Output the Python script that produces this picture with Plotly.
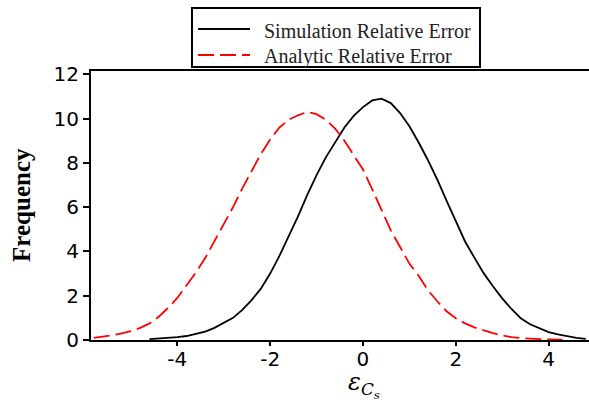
import plotly.graph_objects as go

# Simulation relative error (black solid)
sim_x = [-4.6, -4.4, -4.2, -4.0, -3.8, -3.6, -3.4, -3.2, -3.0, -2.8, -2.6, -2.4, -2.2, -2.0,
         -1.8, -1.6, -1.4, -1.2, -1.0, -0.8, -0.6, -0.4, -0.2, 0.0, 0.2, 0.4, 0.6, 0.8, 1.0,
         1.2, 1.4, 1.6, 1.8, 2.0, 2.2, 2.4, 2.6, 2.8, 3.0, 3.2, 3.4, 3.6, 3.8, 4.0, 4.2, 4.4,
         4.6, 4.8]
sim_y = [0.04, 0.06, 0.08, 0.13, 0.18, 0.27, 0.38, 0.55, 0.78, 1.0, 1.36, 1.8, 2.32, 3.0,
         3.8, 4.68, 5.58, 6.55, 7.45, 8.25, 8.95, 9.6, 10.12, 10.52, 10.82, 10.9, 10.7, 10.25, 9.65,
         8.92, 8.12, 7.25, 6.3, 5.35, 4.45, 3.72, 3.02, 2.43, 1.88, 1.4, 0.98, 0.71, 0.53, 0.36, 0.25, 0.16,
         0.1, 0.05]

# Analytic relative error (red dashed)
ana_x = [-5.8, -5.6, -5.4, -5.2, -5.0, -4.8, -4.6, -4.4, -4.2, -4.0, -3.8, -3.6, -3.4, -3.2,
         -3.0, -2.8, -2.6, -2.4, -2.2, -2.0, -1.8, -1.6, -1.4, -1.2, -1.0, -0.8, -0.6, -0.4,
         -0.2, 0.0, 0.2, 0.4, 0.6, 0.8, 1.0, 1.2, 1.4, 1.6, 1.8, 2.0, 2.2, 2.4, 2.6, 2.8, 3.0,
         3.2, 3.4, 3.6, 3.8, 4.0, 4.2, 4.3]
ana_y = [0.1, 0.15, 0.22, 0.3, 0.4, 0.55, 0.75, 1.05, 1.45, 1.9, 2.45, 3.05, 3.7, 4.45,
         5.2, 6.0, 6.85, 7.65, 8.4, 9.05, 9.6, 9.95, 10.15, 10.3, 10.2, 9.95, 9.55, 9.0,
         8.35, 7.7, 6.8, 5.85, 4.95, 4.2, 3.45, 2.9, 2.25, 1.75, 1.3, 0.98, 0.75, 0.57, 0.43, 0.31, 0.21,
         0.13, 0.09, 0.05, 0.04, 0.03, 0.02, 0.02]

series_names = ["Simulation Relative Error", "Analytic Relative Error"]
series_colors = ["black", "red"]
series_dash = ["solid", "16px,6px"]

x_ticks = [-4, -2, 0, 2, 4]
y_ticks = [0, 2, 4, 6, 8, 10, 12]

fig = go.Figure()
fig.add_trace(go.Scatter(x=sim_x, y=sim_y, mode="lines", name=series_names[0],
                         line=dict(color=series_colors[0], width=1.8, dash=series_dash[0])))
fig.add_trace(go.Scatter(x=ana_x, y=ana_y, mode="lines", name=series_names[1],
                         line=dict(color=series_colors[1], width=1.8, dash=series_dash[1])))

tick_font = dict(family="DejaVu Sans", size=20, color="black")

# Hand-built legend box (paper coordinates, above the plot area)
shapes = [dict(type="rect", xref="paper", yref="paper", x0=0.2028, x1=0.7811, y0=1.0149, y1=1.2342,
               line=dict(color="black", width=2), fillcolor="white", layer="above")]
annotations = []
leg_line_y = [1.1561, 1.0595]
leg_text_y = [1.1487, 1.0521]
for i in range(2):
    shapes.append(dict(type="line", xref="paper", yref="paper", x0=0.2149, x1=0.3193,
                       y0=leg_line_y[i], y1=leg_line_y[i], layer="above",
                       line=dict(color=series_colors[i], width=1.8, dash=series_dash[i])))
    annotations.append(dict(text=series_names[i], xref="paper", yref="paper", x=0.3434, y=leg_text_y[i],
                            xanchor="left", yanchor="middle", showarrow=False,
                            font=dict(family="Liberation Serif", size=20, color="#222")))

annotations += [
    dict(text="<b>Frequency</b>", xref="paper", yref="paper", x=-0.1386, y=0.502,
         textangle=-90, showarrow=False, xanchor="center", yanchor="middle",
         font=dict(family="Liberation Serif", size=25, color="black")),
    dict(text="<i>ε</i><sub><i>C</i><sub><i>s</i></sub></sub>", xref="paper", yref="paper",
         x=0.548, y=-0.167, showarrow=False, xanchor="center", yanchor="middle",
         font=dict(family="DejaVu Serif", size=24, color="black")),
]

fig.update_layout(
    width=589, height=412,
    margin=dict(l=91, r=0, t=71, b=72),
    paper_bgcolor="white", plot_bgcolor="white",
    showlegend=False,
    xaxis=dict(
        range=[-5.86, 4.87], tickvals=x_ticks, ticktext=[str(v) for v in x_ticks],
        showline=True, linecolor="black", linewidth=2, mirror=True,
        ticks="outside", ticklen=4, tickwidth=1.5, tickcolor="black",
        showgrid=False, zeroline=False, tickfont=tick_font, ticklabelstandoff=-4,
    ),
    yaxis=dict(
        range=[0, 12.15], tickvals=y_ticks, ticktext=[str(v) for v in y_ticks],
        showline=True, linecolor="black", linewidth=2,
        ticks="outside", ticklen=6, tickwidth=1.5, tickcolor="black",
        showgrid=False, zeroline=False, tickfont=tick_font,
    ),
    shapes=shapes,
    annotations=annotations,
)

fig.write_html("out.html", config={"displayModeBar": False},
               post_script="document.body.style.margin='0';")
